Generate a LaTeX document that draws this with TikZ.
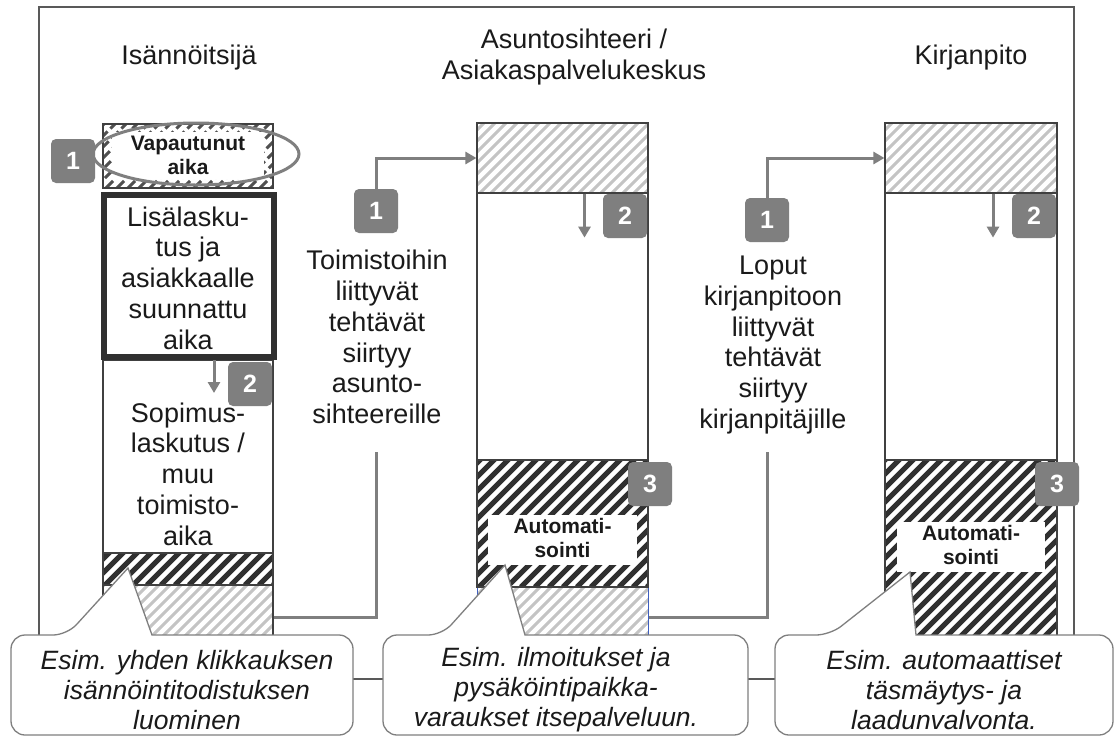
\documentclass[tikz,border=0pt]{standalone}
\usepackage{fontspec}
\setmainfont{Liberation Sans}
\usetikzlibrary{arrows.meta,shapes.geometric}
\definecolor{badgegray}{HTML}{7F7F7F}
\definecolor{framegray}{HTML}{595959}
\definecolor{linegray}{HTML}{404040}
\definecolor{hatchlight}{HTML}{C4C4C4}
\definecolor{hatchdark}{HTML}{303030}
\definecolor{hatchmid}{HTML}{505050}
\definecolor{txt}{HTML}{1A1A1A}
\definecolor{edgeblue}{HTML}{3F5FBF}
\begin{document}
\begin{tikzpicture}[x=1pt,y=-1pt,
  bigtext/.style={font=\fontsize{27}{30.8}\selectfont, text=txt, align=center, inner sep=0pt},
  boldlabel/.style={font=\bfseries\fontsize{21}{24}\selectfont, text=txt, align=center, inner sep=0pt},
  callouttext/.style={font=\itshape\fontsize{26.5}{30}\selectfont, text=txt, align=center, inner sep=0pt},
  badge/.style={rectangle, rounded corners=5pt, fill=badgegray, text=white,
    font=\bfseries\fontsize{25}{25}\selectfont, minimum width=44pt, minimum height=44pt, inner sep=0pt},
  sect/.style={rectangle, draw=linegray, line width=1.2pt, fill=white, inner sep=0pt},
  whitebox/.style={rectangle, fill=white, inner sep=0pt},
  lighthatch/.style={path picture={\foreach \j in {0,...,45}{\draw[line width=3pt,hatchlight]
      ([xshift={\j*11pt-250pt}]path picture bounding box.south west) -- ++(300,-300);}}},
  darkhatch/.style={path picture={\foreach \j in {0,...,36}{\draw[line width=5pt,hatchdark]
      ([xshift={\j*14pt-250pt}]path picture bounding box.south west) -- ++(300,-300);}}},
  dashhatch/.style={path picture={\foreach \j in {0,...,50}{\draw[line width=3pt,hatchmid,dash pattern=on 10pt off 4pt]
      ([xshift={\j*11pt-250pt}]path picture bounding box.south west) -- ++(300,-300);}}},
  arr/.style={draw=badgegray, line width=3pt, -{Triangle[length=11pt,width=12pt]}},
  conn/.style={draw=badgegray, line width=3pt},
  callout/.style={draw=badgegray, line width=1.3pt, fill=white},
  frame/.style={draw=framegray, line width=1.3pt}
]
\useasboundingbox (0,0) rectangle (1115,737);
\fill[white] (0,0) rectangle (1115,737);

% outer frame
\draw[frame] (39,7) rectangle (1074,679);

% headers
\node[bigtext] (h1) at (189,58) {Isännöitsijä};
\node[bigtext] (h2) at (574,57) {Asuntosihteeri /\\Asiakaspalvelukeskus};
\node[bigtext] (h3) at (971,58) {Kirjanpito};

% ---- column 1
\node[sect, dashhatch, minimum width=170pt, minimum height=64pt] (c1top) at (188,156) {};
\node[whitebox, minimum width=152pt, minimum height=47pt] (t1box) at (188,155) {};
\node[boldlabel] (t1) at (188,155) {Vapautunut\\aika};
\node[sect, minimum width=170pt, minimum height=193pt] (c1mid) at (188,456.5) {};
\node[sect, darkhatch, minimum width=170pt, minimum height=32pt] (c1dark) at (188,569) {};
\node[sect, lighthatch, minimum width=170pt, minimum height=64pt] (c1light) at (188,617) {};
\node[rectangle, draw=hatchdark, line width=6pt, fill=white, inner sep=0pt,
      minimum width=170pt, minimum height=162pt] (c1main) at (189,276) {};
\node[bigtext] (l1) at (188,278) {Lisälasku-\\tus ja\\asiakkaalle\\suunnattu\\aika};
\node[bigtext] (s1) at (188,474) {Sopimus-\\laskutus /\\muu\\toimisto-\\aika};
\node[draw=badgegray, line width=3pt, ellipse, minimum width=206pt, minimum height=62pt, inner sep=0pt] (ell) at (196,154) {};
\node[badge] (b1a) at (73,161) {1};
\node[badge] (b2a) at (250,384) {2};
\draw[arr] ([xshift=25pt]c1main.south) -- ++(0,33);

% ---- column 2
\node[sect, lighthatch, minimum width=171pt, minimum height=70pt] (c2top) at (562.5,158) {};
\node[sect, minimum width=171pt, minimum height=267pt] (c2mid) at (562.5,326.5) {};
\node[rectangle, draw=edgeblue, line width=1pt, fill=white, lighthatch, inner sep=0pt,
      minimum width=171pt, minimum height=60pt] (c2light) at (562.5,617) {};
\node[sect, darkhatch, minimum width=171pt, minimum height=127pt] (c2dark) at (562.5,523.5) {};
\node[whitebox, minimum width=149pt, minimum height=50pt] (a2box) at (562.5,540) {};
\node[boldlabel] (a2) at (562.5,538) {Automati-\\sointi};
\node[badge] (b1b) at (376,211) {1};
\node[badge] (b2b) at (625,216) {2};
\node[badge] (b3b) at (650,484) {3};
\draw[arr] (b1b.north) |- (c2top.west);
\draw[arr] ([xshift=22pt]c2top.south) -- ++(0,44);
\node[bigtext] (m1) at (377,337) {Toimistoihin\\liittyvät\\tehtävät\\siirtyy\\asunto-\\sihteereille};

% ---- column 3
\node[sect, lighthatch, minimum width=172pt, minimum height=70pt] (c3top) at (971,158) {};
\node[sect, minimum width=172pt, minimum height=267pt] (c3mid) at (971,326.5) {};
\node[sect, darkhatch, minimum width=172pt, minimum height=180pt] (c3dark) at (971,550) {};
\node[whitebox, minimum width=148pt, minimum height=50pt] (a3box) at (971,547) {};
\node[boldlabel] (a3) at (971,545) {Automati-\\sointi};
\node[badge] (b1c) at (767,220) {1};
\node[badge] (b2c) at (1034,216) {2};
\node[badge] (b3c) at (1057,484) {3};
\draw[arr] (b1c.north) |- (c3top.west);
\draw[arr] ([xshift=22pt]c3top.south) -- ++(0,44);
\node[bigtext] (m2) at (773,345) {Loput\\kirjanpitoon\\liittyvät\\tehtävät\\siirtyy\\kirjanpitäjille};

% ---- connectors between columns
\coordinate (k1) at (376,452);
\coordinate (k2) at (767,452);
\draw[conn] (c1light.east) -| (k1);
\draw[conn] (c2light.east) -| (k2);

% ---- callouts
\path[callout] (11,700) [rounded corners=14pt] -- (11,635) -- (67,635) [sharp corners] -- (128,568)
   -- (152,635) [rounded corners=14pt] -- (353,635) -- (353,735) -- (11,735) -- cycle;
\path[callout] (383,700) [rounded corners=14pt] -- (383,635) -- (442,635) [sharp corners] -- (505,565)
   -- (525,635) [rounded corners=14pt] -- (748,635) -- (748,735) -- (383,735) -- cycle;
\path[callout] (775,700) [rounded corners=14pt] -- (775,635) -- (830,635) [sharp corners] -- (910,572)
   -- (916,635) [rounded corners=14pt] -- (1113,635) -- (1113,735) -- (775,735) -- cycle;
\node[callouttext] (ct1) at (187,690) {Esim. yhden klikkauksen\\isännöintitodistuksen\\luominen};
\node[callouttext] (ct2) at (556,690) {Esim. ilmoitukset ja\\pysäköintipaikka-\\varaukset itsepalveluun.};
\node[callouttext] (ct3) at (944,690) {Esim. automaattiset\\täsmäytys- ja\\laadunvalvonta.};
\end{tikzpicture}
\end{document}
